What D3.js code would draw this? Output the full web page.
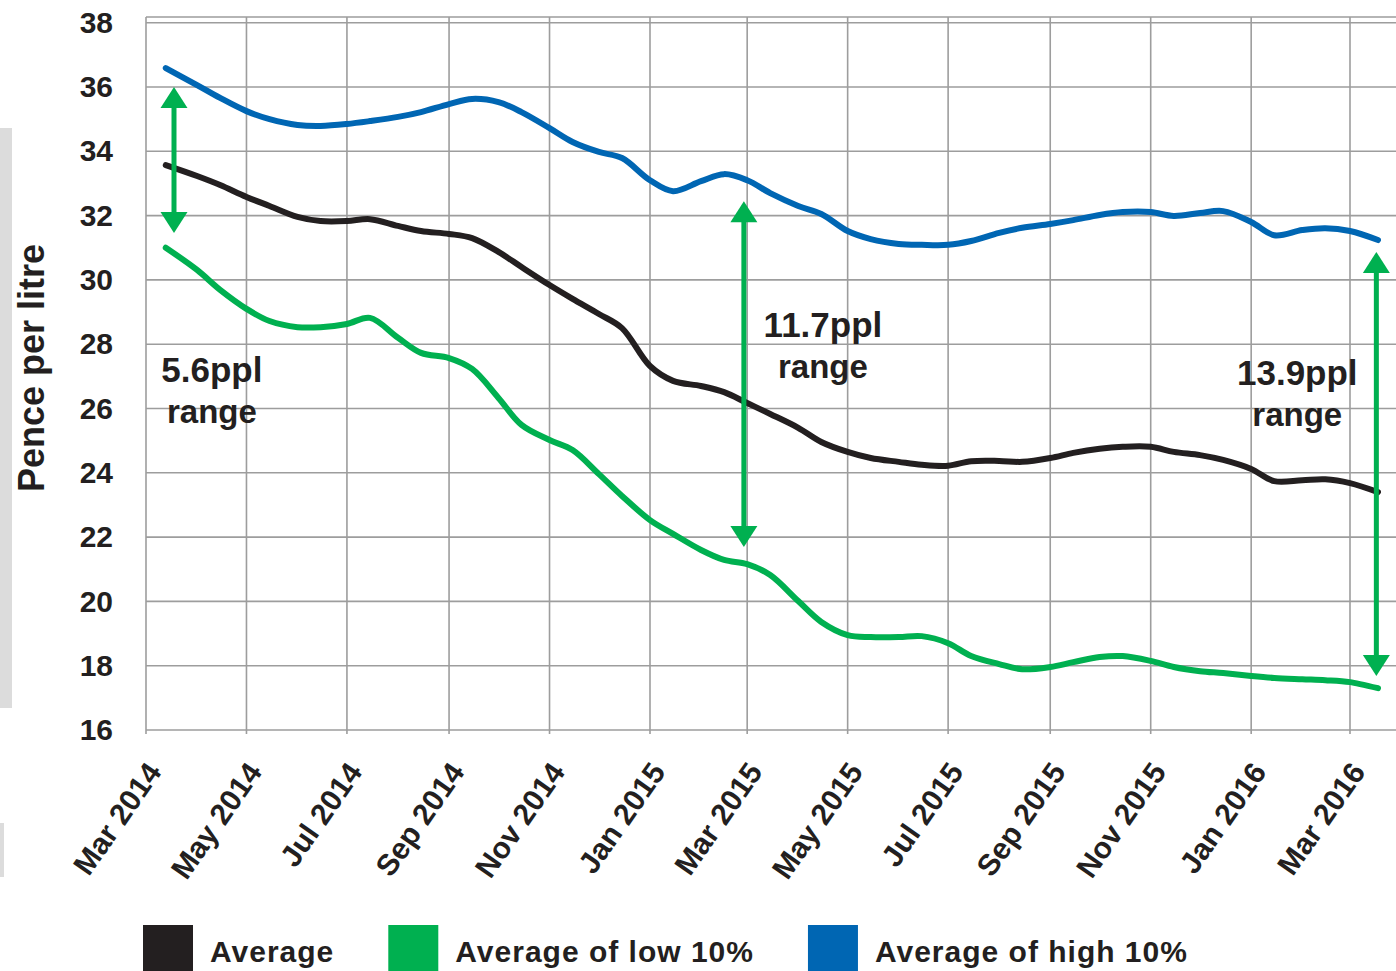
<!DOCTYPE html>
<html>
<head>
<meta charset="utf-8">
<script src="https://cdn.jsdelivr.net/npm/d3@7"></script>
<style>
  body { margin: 0; background: #fff; }
  svg { display: block; font-family: "Liberation Sans", Arial, sans-serif; font-weight: bold; }
</style>
</head>
<body>
<div id="chart"></div>
<script>
// fortnightly readings, pence per litre
var dates = ["2014-03-13","2014-04-01","2014-04-15","2014-05-01","2014-05-15","2014-06-01","2014-06-15",
  "2014-07-01","2014-07-15","2014-08-01","2014-08-15","2014-09-01","2014-09-15","2014-10-01","2014-10-15",
  "2014-11-01","2014-11-15","2014-12-01","2014-12-15","2015-01-01","2015-01-15","2015-02-01","2015-02-15",
  "2015-03-01","2015-03-15","2015-04-01","2015-04-15","2015-05-01","2015-05-15","2015-06-01","2015-06-15",
  "2015-07-01","2015-07-15","2015-08-01","2015-08-15","2015-09-01","2015-09-15","2015-10-01","2015-10-15",
  "2015-11-01","2015-11-15","2015-12-01","2015-12-15","2016-01-01","2016-01-15","2016-02-01","2016-02-15",
  "2016-03-01","2016-03-18"];

var average = [33.57,33.23,32.95,32.58,32.30,31.96,31.83,31.83,31.89,31.68,31.52,31.43,31.30,30.87,30.40,
  29.84,29.41,28.94,28.50,27.32,26.86,26.70,26.51,26.17,25.83,25.40,24.96,24.65,24.46,24.34,24.25,
  24.22,24.36,24.37,24.34,24.46,24.62,24.75,24.81,24.81,24.65,24.55,24.40,24.12,23.74,23.77,23.80,
  23.68,23.40];

var low10 = [31.00,30.31,29.69,29.10,28.72,28.53,28.53,28.63,28.82,28.20,27.73,27.57,27.23,26.33,25.49,
  25.02,24.71,23.96,23.28,22.53,22.10,21.60,21.29,21.16,20.82,20.01,19.36,18.95,18.89,18.89,18.92,
  18.70,18.30,18.05,17.89,17.96,18.11,18.27,18.30,18.15,17.96,17.83,17.77,17.68,17.62,17.58,17.55,
  17.49,17.30];

var high10 = [36.59,36.06,35.66,35.25,35.00,34.82,34.79,34.85,34.94,35.07,35.22,35.47,35.63,35.53,35.22,
  34.72,34.29,33.98,33.79,33.10,32.76,33.07,33.29,33.10,32.70,32.30,32.05,31.52,31.27,31.12,31.09,
  31.09,31.21,31.46,31.62,31.74,31.86,32.02,32.11,32.11,31.99,32.08,32.14,31.80,31.39,31.55,31.61,
  31.52,31.24];

var seriesNames = ["Average", "Average of low 10%", "Average of high 10%"];
var seriesColors = ["#231f20", "#00b050", "#0066b3"];

var yTicks = [16,18,20,22,24,26,28,30,32,34,36,38];

// range arrows: where, from, to, label
var arrowDates = ["2014-03-18", "2015-02-27", "2016-03-17"];
var arrowTop = [36.0, 32.45, 30.87];
var arrowBottom = [31.46, 21.69, 17.68];
var labelText = ["5.6ppl", "11.7ppl", "13.9ppl"];
var labelDates = ["2014-04-10", "2015-04-16", "2016-01-29"];
var labelValues = [26.82, 28.22, 26.73];

var W = 1396, H = 971;
var parse = d3.timeParse("%Y-%m-%d");
var ink = "#231f20";
var gridColor = "#9d9d9d";

var svg = d3.select("#chart").append("svg")
    .attr("width", W)
    .attr("height", H);

// grey strips on left page edge
svg.append("rect").attr("x", 0).attr("y", 128).attr("width", 12).attr("height", 580).attr("fill", "#dcdcdc");
svg.append("rect").attr("x", 0).attr("y", 823).attr("width", 4).attr("height", 54).attr("fill", "#dcdcdc");

var x = d3.scaleTime()
    .domain([parse("2014-03-01"), parse("2016-03-01")])
    .range([146, 1350]);
var y = d3.scaleLinear()
    .domain([16, 38])
    .range([730, 22.7]);

var plotLeft = 146, plotRight = 1400, plotTop = 17, plotBottom = 730;
var months = x.ticks(d3.timeMonth.every(2));

// grid
var grid = svg.append("g").attr("stroke", gridColor).attr("stroke-width", 1.6);
grid.selectAll(".hg").data(yTicks).enter().append("line")
    .attr("x1", plotLeft).attr("x2", plotRight)
    .attr("y1", function(d) { return y(d); })
    .attr("y2", function(d) { return y(d); });
grid.append("line")
    .attr("x1", plotLeft).attr("x2", plotRight)
    .attr("y1", plotTop).attr("y2", plotTop);
grid.selectAll(".vg").data(months).enter().append("line")
    .attr("x1", function(d) { return x(d); })
    .attr("x2", function(d) { return x(d); })
    .attr("y1", plotTop).attr("y2", plotBottom + 4);

// y axis labels
var yAxis = d3.axisLeft(y).tickValues(yTicks).tickSize(0).tickPadding(33);
var yg = svg.append("g")
    .attr("transform", "translate(" + plotLeft + ",0)")
    .call(yAxis);
yg.select(".domain").remove();
yg.selectAll("text")
    .attr("fill", ink)
    .style("font-size", "30px")
    .style("font-weight", "bold")
    .style("font-family", "'Liberation Sans', Arial, sans-serif");

// x axis labels
var xAxis = d3.axisBottom(x).tickValues(months).tickFormat(d3.timeFormat("%b %Y")).tickSize(0);
var xg = svg.append("g")
    .attr("transform", "translate(0," + plotBottom + ")")
    .call(xAxis);
xg.select(".domain").remove();
xg.selectAll("text")
    .attr("fill", ink)
    .attr("y", 0).attr("dy", 0)
    .attr("transform", "translate(16,42) rotate(-55)")
    .style("text-anchor", "end")
    .style("font-size", "30px")
    .style("font-weight", "bold")
    .style("font-family", "'Liberation Sans', Arial, sans-serif");

// axis title
svg.append("text")
    .attr("transform", "translate(44,368) rotate(-90)")
    .attr("text-anchor", "middle")
    .attr("fill", ink)
    .style("font-size", "36px")
    .text("Pence per litre");

// lines
var series = [average, low10, high10];
var line = d3.line()
    .x(function(d, i) { return x(parse(dates[i])); })
    .y(function(d) { return y(d); })
    .curve(d3.curveCatmullRom.alpha(0.5));

svg.selectAll(".series").data(series).enter().append("path")
    .attr("class", "series")
    .attr("d", line)
    .attr("fill", "none")
    .attr("stroke", function(d, i) { return seriesColors[i]; })
    .attr("stroke-width", 6)
    .attr("stroke-linecap", "round")
    .attr("stroke-linejoin", "round");

// range arrows
var headW = 27, headH = 21;
var arrows = svg.append("g").attr("fill", "#00b050");
arrowDates.forEach(function(d, i) {
  var ax = x(parse(d)), t = y(arrowTop[i]), b = y(arrowBottom[i]);
  arrows.append("line")
      .attr("x1", ax).attr("x2", ax)
      .attr("y1", t + headH - 2).attr("y2", b - headH + 2)
      .attr("stroke", "#00b050")
      .attr("stroke-width", 5);
  arrows.append("path")
      .attr("d", "M" + ax + "," + t + "L" + (ax + headW / 2) + "," + (t + headH) + "L" + (ax - headW / 2) + "," + (t + headH) + "Z");
  arrows.append("path")
      .attr("d", "M" + ax + "," + b + "L" + (ax + headW / 2) + "," + (b - headH) + "L" + (ax - headW / 2) + "," + (b - headH) + "Z");
});

// range labels
labelText.forEach(function(t, i) {
  var lx = x(parse(labelDates[i])), ly = y(labelValues[i]);
  var txt = svg.append("text")
      .attr("x", lx).attr("y", ly)
      .attr("text-anchor", "middle")
      .attr("fill", ink)
      .style("font-size", "35px");
  txt.append("tspan").attr("x", lx).text(t);
  txt.append("tspan").attr("x", lx).attr("dy", 41).style("font-size", "33px").text("range");
});

// legend
var lx = 143;
seriesNames.forEach(function(n, i) {
  svg.append("rect")
      .attr("x", lx).attr("y", 925)
      .attr("width", 50).attr("height", 50)
      .attr("fill", seriesColors[i]);
  var t = svg.append("text")
      .attr("x", lx + 67).attr("y", 962)
      .attr("fill", ink)
      .style("font-size", "30px")
      .style("letter-spacing", "1px")
      .text(n);
  lx = lx + 67 + t.node().getComputedTextLength() + 54;
});
</script>
</body>
</html>
